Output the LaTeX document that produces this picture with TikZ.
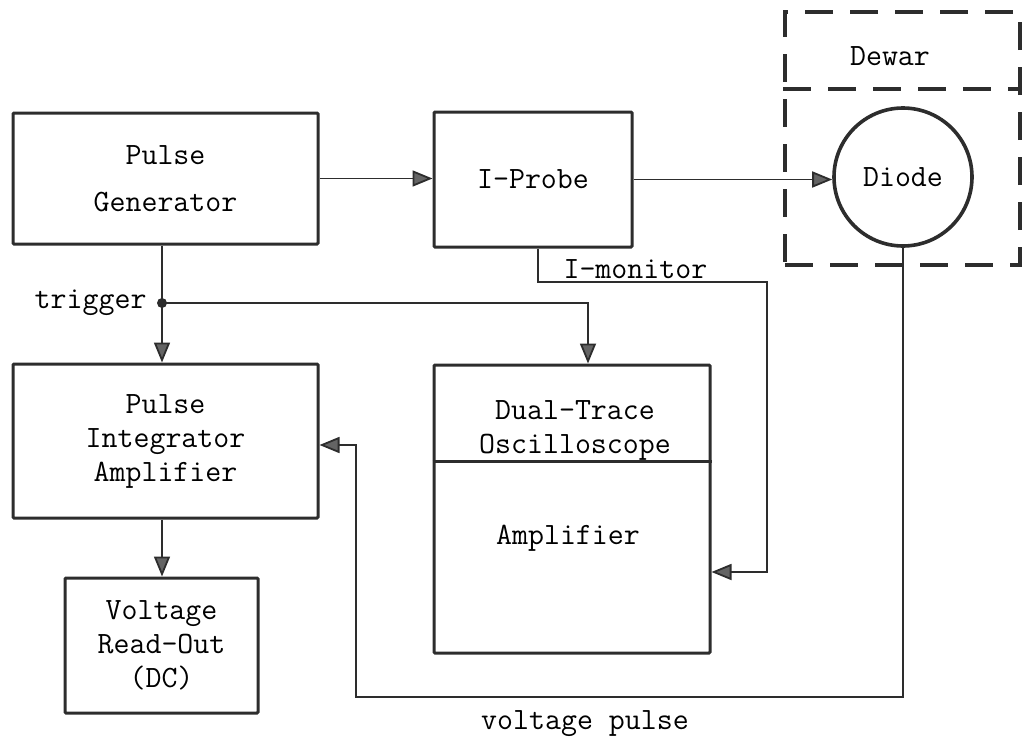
\documentclass[tikz,border=0pt]{standalone}
\usepackage{fontspec}
\usepackage{tikz}
\usetikzlibrary{arrows.meta}
\usetikzlibrary{positioning}
\definecolor{inkgray}{RGB}{45,45,45}
\definecolor{tipgray}{RGB}{100,100,100}
\tikzset{block/.style = {draw=inkgray, line width=3pt, rounded corners=1pt,
                         inner sep=0pt, align=center},
         wire/.style = {draw=inkgray, line width=1.8pt},
         feed/.style = {wire, -{Triangle[length=20pt, width=16pt, fill=tipgray]}},
         dewarline/.style = {draw=inkgray, line width=3.5pt, dash pattern=on 28pt off 17pt}}

\begin{document}
\begin{tikzpicture}[x=1pt, y=-1pt, font=\fontsize{31}{34}\selectfont\ttfamily\addfontfeature{FakeBold=0.6}]
    \useasboundingbox (0, 0) rectangle (1029, 744);

    \node [block, minimum width=305pt, minimum height=131pt] (gen) at (165.5, 178.5) {Pulse\\[13pt]Generator};
    \node [block, minimum width=198pt, minimum height=135pt] (probe) at (533, 179.5) {I-Probe};
    \node [dewarline, minimum width=235pt, minimum height=253pt] (dewar) at (902.5, 138.5) {};
    \node (dewarlabel) at (890, 56) {Dewar};
    \node [block, circle, line width=3.6pt, minimum size=138pt] (diode) at (903, 177) {Diode};

    \node [block, minimum width=305pt, minimum height=154pt] (integ) at (165.5, 441) {Pulse\\Integrator\\Amplifier};
    \node [block, minimum width=276pt, minimum height=288pt] (scope) at (572, 509) {};
    \node [align=center] (scopehead) at (575, 430) {Dual-Trace\\Oscilloscope};
    \node (scopeamp) at (568, 538) {Amplifier};
    \node [block, minimum width=193pt, minimum height=135pt] (readout) at (161.5, 645.5) {Voltage\\Read-Out\\(DC)};

    \coordinate (split) at (0, 461);
    \coordinate (dewarsplit) at (0, 89);
    \coordinate (trig) at (162, 303);
    \coordinate (tap) at (588, 303);
    \coordinate (mon) at (538, 282);
    \coordinate (monturn) at (767, 572);
    \coordinate (vcorner) at (356, 697);
    \coordinate (vin) at (356, 445);

    \draw [block] (scope.west |- split) -- (scope.east |- split);
    \draw [dewarline] (dewar.west |- dewarsplit) -- (dewar.east |- dewarsplit);

    \draw [feed] (gen.east) -- (gen.east -| probe.west);
    \draw [feed] (probe.east) -- (probe.east -| diode.west);
    \draw [wire] (gen.south -| trig) -- (trig);
    \draw [feed] (trig) -- (integ.north -| trig);
    \fill [inkgray] (trig) circle (5pt);
    \draw [feed] (trig) -- (tap) -- (tap |- scope.north);
    \draw [feed] (probe.south -| mon) -- (mon) -| (monturn) -- (monturn -| scope.east);
    \draw [feed] (diode.south) |- (vcorner) -- (vin) -- (vin -| integ.east);
    \draw [feed] (integ.south -| trig) -- (readout.north -| trig);

    \node [left=12pt of trig] (triglabel) {trigger};
    \node [above right=0pt and 22pt of mon] (monlabel) {I-monitor};
    \node (pulselabel) at (585, 724) {voltage pulse};
\end{tikzpicture}
\end{document}
